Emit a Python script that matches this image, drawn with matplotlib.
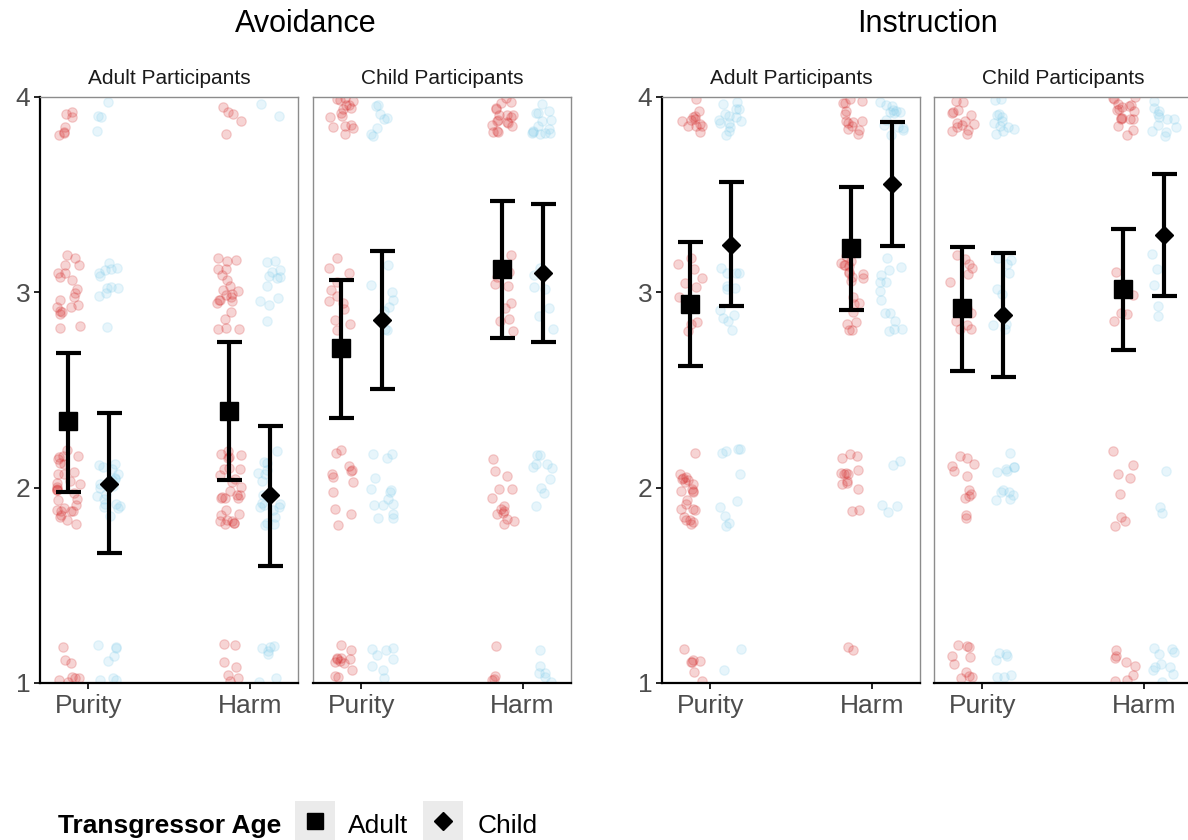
import numpy as np
import matplotlib
matplotlib.use("Agg")
import matplotlib.pyplot as plt
from matplotlib.patches import Rectangle

plt.rcParams['font.family'] = ['Liberation Sans', 'DejaVu Sans']

# ---- data ----
conditions = ["Avoidance", "Instruction"]
participants = ["Adult Participants", "Child Participants"]
domains = ["Purity", "Harm"]
transgressors = ["Adult", "Child"]
ratings = [1, 2, 3, 4]

# means and 95% CI, order: Purity-Adult, Purity-Child, Harm-Adult, Harm-Child
mean_avoid_adultp = [2.34, 2.02, 2.39, 1.96]
lo_avoid_adultp = [1.98, 1.665, 2.04, 1.60]
hi_avoid_adultp = [2.69, 2.38, 2.745, 2.315]

mean_avoid_childp = [2.715, 2.858, 3.12, 3.10]
lo_avoid_childp = [2.356, 2.505, 2.766, 2.745]
hi_avoid_childp = [3.063, 3.21, 3.467, 3.45]

mean_instr_adultp = [2.94, 3.242, 3.227, 3.555]
lo_instr_adultp = [2.623, 2.93, 2.91, 3.237]
hi_instr_adultp = [3.257, 3.565, 3.54, 3.872]

mean_instr_childp = [2.92, 2.884, 3.017, 3.293]
lo_instr_childp = [2.597, 2.566, 2.705, 2.981]
hi_instr_childp = [3.232, 3.20, 3.324, 3.606]

# number of responses at rating 1, 2, 3, 4 (same group order as above)
counts_avoid_adultp = [[8, 30, 20, 7], [8, 20, 12, 4], [7, 28, 22, 5], [7, 18, 12, 2]]
counts_avoid_childp = [[12, 12, 12, 16], [8, 14, 8, 8], [4, 14, 10, 18], [6, 10, 8, 14]]
counts_instr_adultp = [[7, 22, 12, 12], [2, 10, 12, 14], [2, 14, 20, 14], [0, 5, 14, 14]]
counts_instr_childp = [[10, 12, 12, 14], [7, 12, 10, 12], [8, 8, 5, 18], [10, 3, 5, 12]]

panels = [
    (mean_avoid_adultp, lo_avoid_adultp, hi_avoid_adultp, counts_avoid_adultp),
    (mean_avoid_childp, lo_avoid_childp, hi_avoid_childp, counts_avoid_childp),
    (mean_instr_adultp, lo_instr_adultp, hi_instr_adultp, counts_instr_adultp),
    (mean_instr_childp, lo_instr_childp, hi_instr_childp, counts_instr_childp),
]

point_colors = {"Adult": "#D42A2A", "Child": "#87CEEB"}
point_alpha = {"Adult": 0.2, "Child": 0.2}
mean_markers = {"Adult": ("s", 12.5), "Child": ("D", 9)}

W, H = 1188, 840
fig = plt.figure(figsize=(W / 100, H / 100), dpi=100)

# panel boxes in pixels: left, right (top=97, bottom=683)
panel_px = [(40, 298), (313, 571), (662, 920), (934, 1192)]
top_px, bot_px = 97, 683

# jitter like geom_jitter (display only)
rng = np.random.default_rng(11)
dodge = 0.125

for i, (means, los, his, counts) in enumerate(panels):
    l, r = panel_px[i]
    ax = fig.add_axes([l / W, (H - bot_px) / H, (r - l) / W, (bot_px - top_px) / H])
    ax.set_xlim(0.7, 2.3)
    ax.set_ylim(1, 4)

    k = 0
    for d, dom in enumerate(domains):
        for t, tr in enumerate(transgressors):
            xc = d + 1 + (-dodge if t == 0 else dodge)
            ys, xs = [], []
            for rating, n in zip(ratings, counts[k]):
                if rating == 4:
                    dy = rng.uniform(-0.2, 0.0, n)
                elif rating == 1:
                    dy = rng.uniform(0.0, 0.2, n)
                else:
                    dy = rng.uniform(-0.2, 0.2, n)
                ys.extend(rating + dy)
                xs.extend(xc + rng.uniform(-0.075, 0.075, n))
            col = point_colors[tr]
            ax.scatter(xs, ys, s=46, color=col, alpha=point_alpha[tr], edgecolors=col,
                       linewidths=0.9, zorder=2, clip_on=True)
            mk, ms = mean_markers[tr]
            ax.errorbar([xc], [means[k]],
                        yerr=[[means[k] - los[k]], [his[k] - means[k]]],
                        fmt=mk, ms=ms, color="black", ecolor="black",
                        elinewidth=3, capsize=9, capthick=3, zorder=3)
            k += 1

    for sp in ax.spines.values():
        sp.set_color("#8C8C8C")
        sp.set_linewidth(1.0)
    ax.spines["bottom"].set_color("black")
    ax.spines["bottom"].set_linewidth(1.6)
    ax.set_xticks([1, 2])
    ax.set_xticklabels(domains)
    ax.tick_params(axis="x", length=4, width=1.2, color="black",
                   labelsize=19, labelcolor="#4D4D4D", pad=4)
    if i % 2 == 0:
        ax.spines["left"].set_color("black")
        ax.spines["left"].set_linewidth(1.6)
        ax.set_yticks(ratings)
        ax.tick_params(axis="y", length=4, width=1.2, color="black",
                       labelsize=19, labelcolor="#4D4D4D", pad=3)
    else:
        ax.set_yticks([])

    # strip label
    fig.text((l + r) / 2 / W, 1 - 84 / H, participants[i % 2], ha="center",
             va="baseline", fontsize=15, color="#1A1A1A")

# group titles
fig.text((40 + 571) / 2 / W, 1 - 32 / H, conditions[0], ha="center",
         va="baseline", fontsize=22, color="black")
fig.text((662 + 1192) / 2 / W, 1 - 32 / H, conditions[1], ha="center",
         va="baseline", fontsize=22, color="black")

# legend at the bottom
leg = fig.add_axes([0, 0, 1, 1], facecolor="none")
leg.set_xlim(0, W)
leg.set_ylim(H, 0)
leg.axis("off")
leg.text(58, 833, "Transgressor Age", fontsize=19, fontweight="bold",
         va="baseline", ha="left")
key_left = [295, 423]
label_left = [348, 478]
for j, tr in enumerate(transgressors):
    leg.add_patch(Rectangle((key_left[j], 801), 40, 40, facecolor="#EBEBEB",
                            edgecolor="none", clip_on=False))
    mk, ms = mean_markers[tr]
    leg.plot([key_left[j] + 20], [821], marker=mk, ms=ms * 0.9 if tr == "Adult" else ms,
             color="black", linestyle="none")
    leg.text(label_left[j], 833, tr, fontsize=19, va="baseline", ha="left")

fig.savefig("out.png", dpi=100)
